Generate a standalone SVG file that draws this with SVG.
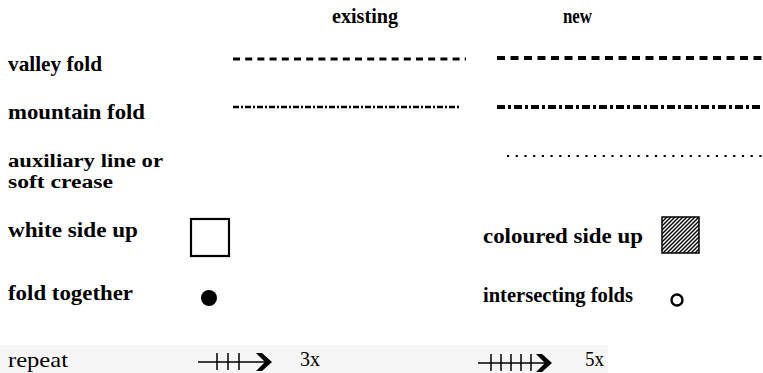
<svg xmlns="http://www.w3.org/2000/svg" width="763" height="373" viewBox="0 0 763 373">
<style>
.t{font-family:'Liberation Serif',Tinos,'Times New Roman',Times,serif;font-weight:700;font-size:21px;fill:#000}
.s{font-size:18px}
.r{font-family:'Liberation Serif',Tinos,'Times New Roman',Times,serif;font-weight:400;font-size:21px;fill:#000}
.ln{fill:none;stroke:#000}
</style>
<defs>
<pattern id="hatch" width="4" height="4" patternUnits="userSpaceOnUse">
<rect width="4" height="4" fill="#fff"/>
<path d="M-1,1 l2,-2 M0,4 l4,-4 M3,5 l2,-2" stroke="#000" stroke-width="1.4"/>
</pattern>
</defs>
<rect width="763" height="373" fill="#fff"/>
<rect x="0" y="345" width="608" height="28" fill="#f6f6f6"/>

<g id="headers">
<text class="t" x="332" y="23" textLength="66" lengthAdjust="spacingAndGlyphs">existing</text>
<text class="t" x="563" y="23" textLength="29" lengthAdjust="spacingAndGlyphs">new</text>
</g>

<g id="valley-fold">
<text class="t" x="8" y="71" textLength="94" lengthAdjust="spacingAndGlyphs">valley fold</text>
<line class="ln" x1="233" y1="59" x2="466" y2="59" stroke-width="3" stroke-dasharray="7 5.2"/>
<line class="ln" x1="497" y1="58" x2="763" y2="58" stroke-width="4" stroke-dasharray="8 5.5"/>
</g>

<g id="mountain-fold">
<text class="t" x="8" y="119" textLength="137" lengthAdjust="spacingAndGlyphs">mountain  fold</text>
<line class="ln" x1="233" y1="107" x2="461" y2="107" stroke-width="2.5" stroke-dasharray="6 2 2 2"/>
<line class="ln" x1="497" y1="107" x2="763" y2="107" stroke-width="4" stroke-dasharray="8 3 3 3"/>
</g>

<g id="auxiliary-line">
<text class="t s" x="8" y="167" textLength="155" lengthAdjust="spacingAndGlyphs">auxiliary  line or</text>
<text class="t s" x="8" y="188" textLength="105" lengthAdjust="spacingAndGlyphs">soft  crease</text>
<line class="ln" x1="507" y1="156" x2="763" y2="156" stroke-width="2.2" stroke-dasharray="2.2 6.5"/>
</g>

<g id="white-side-up">
<text class="t" x="8" y="237" textLength="130" lengthAdjust="spacingAndGlyphs">white  side up</text>
<rect x="191" y="219" width="38" height="37" fill="#fff" stroke="#000" stroke-width="2.2"/>
</g>

<g id="coloured-side-up">
<text class="t" x="483" y="243" textLength="160" lengthAdjust="spacingAndGlyphs">coloured side up</text>
<rect x="662" y="217" width="37" height="36" fill="url(#hatch)" stroke="#000" stroke-width="1.5"/>
</g>

<g id="fold-together">
<text class="t" x="8" y="300" textLength="125" lengthAdjust="spacingAndGlyphs">fold  together</text>
<circle cx="209" cy="298" r="8" fill="#000"/>
</g>

<g id="intersecting-folds">
<text class="t" x="483" y="302" textLength="150" lengthAdjust="spacingAndGlyphs">intersecting folds</text>
<circle cx="677" cy="300" r="5.5" fill="none" stroke="#000" stroke-width="2.4"/>
</g>

<g id="repeat">
<text class="r" x="8" y="367" textLength="60" lengthAdjust="spacingAndGlyphs">repeat</text>
<text class="r" x="300" y="366" textLength="20" lengthAdjust="spacingAndGlyphs">3x</text>
<text class="r" x="585" y="366" textLength="19" lengthAdjust="spacingAndGlyphs">5x</text>
</g>

<g id="connectors">
<g stroke="#000" stroke-width="1.5" fill="none">
<line x1="198" y1="362" x2="266" y2="362"/>
<line x1="217" y1="353" x2="217" y2="370"/>
<line x1="228" y1="353" x2="228" y2="370"/>
<line x1="239" y1="353" x2="239" y2="370"/>
<line x1="478" y1="363" x2="546" y2="363"/>
<line x1="491" y1="354" x2="491" y2="371"/>
<line x1="501" y1="354" x2="501" y2="371"/>
<line x1="511" y1="354" x2="511" y2="371"/>
<line x1="521" y1="354" x2="521" y2="371"/>
<line x1="531" y1="354" x2="531" y2="371"/>
</g>
<polygon points="256,353 262,353 272,362 262,371 256,371 265,362" fill="#000"/>
<polygon points="536,354 542,354 552,363 542,372 536,372 545,363" fill="#000"/>
</g>
</svg>
